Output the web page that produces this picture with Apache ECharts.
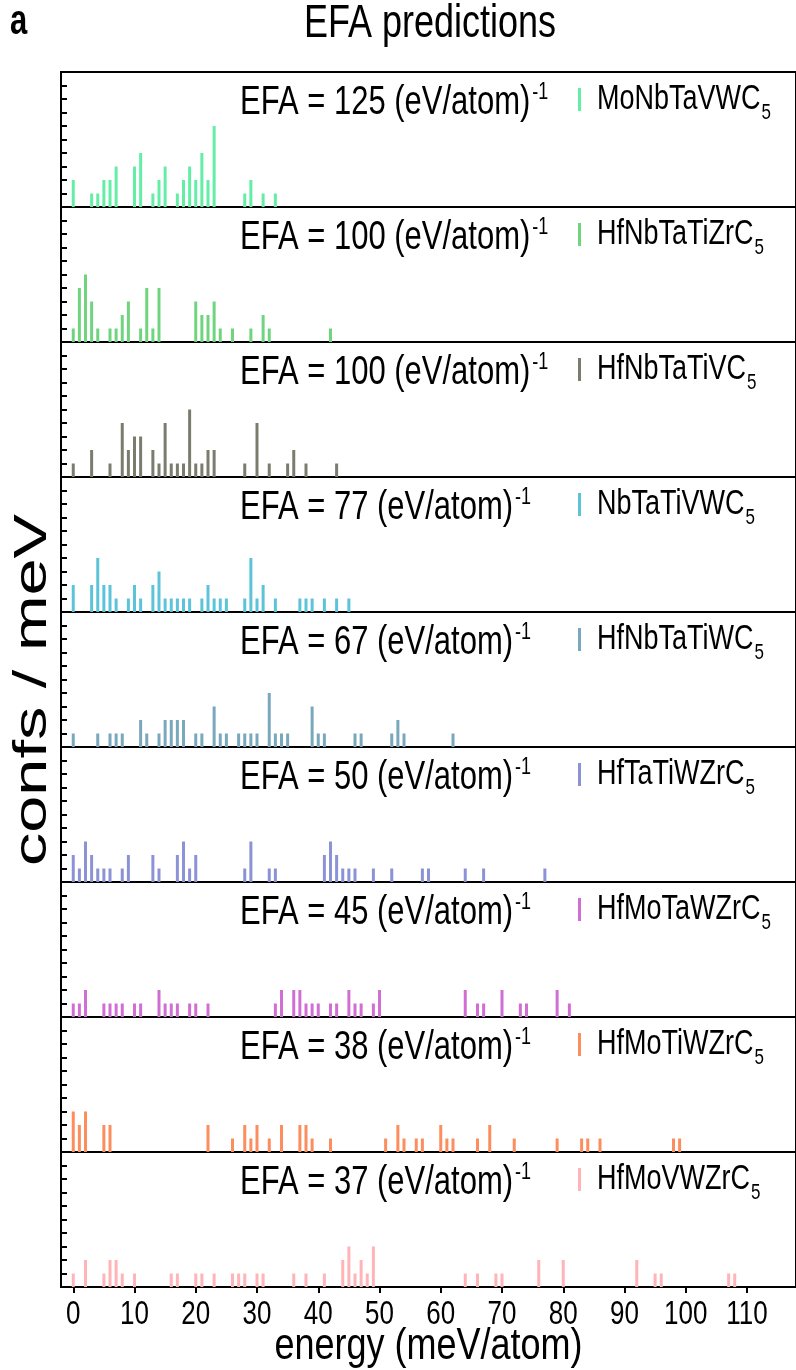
<!DOCTYPE html>
<html><head><meta charset="utf-8">
<script src="https://cdn.jsdelivr.net/npm/echarts@6/dist/echarts.min.js"></script>
<style>html,body{margin:0;padding:0;background:#fff}#c{width:796px;height:1370px}</style>
</head><body><div id="c"></div>
<script>
// ---------------- data ----------------
const compounds = ['MoNbTaVWC', 'HfNbTaTiZrC', 'HfNbTaTiVC', 'NbTaTiVWC', 'HfNbTaTiWC', 'HfTaTiWZrC', 'HfMoTaWZrC', 'HfMoTiWZrC', 'HfMoVWZrC'];
const efaValues = [125, 100, 100, 77, 67, 50, 45, 38, 37];
const colors = ['#62EFA5', '#6FD47D', '#7B7C6E', '#5CC3D9', '#79A7BC', '#8B92D5', '#D06ED3', '#FC8D5D', '#FFB5B7'];
const xTickValues = [0, 10, 20, 30, 40, 50, 60, 70, 80, 90, 100, 110];

// [energy (meV/atom), count]
const panel1 = [[0,2],[3,1],[4,1],[5,2],[6,2],[7,3],[10,3],[11,4],[13,1],[14,2],[15,3],[17,1],[18,2],[19,3],[20,2],[21,4],[22,2],[23,6],[28,1],[29,2],[31,1],[33,1]];
const panel2 = [[0,1],[1,4],[2,5],[3,3],[4,1],[6,1],[7,1],[8,2],[9,3],[11,1],[12,4],[13,1],[14,4],[20,3],[21,2],[22,2],[23,3],[24,1],[26,1],[29,1],[31,2],[32,1],[42,1]];
const panel3 = [[0,1],[3,2],[6,1],[8,4],[9,2],[10,3],[11,3],[13,2],[14,1],[15,4],[16,1],[17,1],[18,1],[19,5],[20,1],[21,1],[22,2],[23,2],[28,1],[30,4],[32,1],[35,1],[36,2],[38,1],[43,1]];
const panel4 = [[0,2],[3,2],[4,4],[5,2],[6,2],[7,1],[9,1],[10,2],[11,1],[13,2],[14,3],[15,1],[16,1],[17,1],[18,1],[19,1],[21,1],[22,2],[23,1],[24,1],[25,1],[28,1],[29,4],[30,1],[31,2],[33,1],[37,1],[38,1],[39,1],[41,1],[43,1],[45,1]];
const panel5 = [[0,1],[4,1],[6,1],[7,1],[8,1],[11,2],[12,1],[14,1],[15,2],[16,2],[17,2],[18,2],[20,1],[21,1],[23,3],[24,1],[25,1],[27,1],[28,1],[29,1],[30,1],[32,4],[33,1],[34,1],[35,1],[39,3],[40,1],[41,1],[46,1],[47,1],[52,1],[53,2],[54,1],[62,1]];
const panel6 = [[0,2],[1,1],[2,3],[3,2],[4,1],[5,1],[6,1],[8,1],[9,2],[13,2],[14,1],[17,2],[18,3],[19,1],[20,2],[28,1],[29,3],[32,1],[33,1],[41,2],[42,3],[43,2],[44,1],[45,1],[46,1],[49,1],[52,1],[57,1],[58,1],[64,1],[67,1],[77,1]];
const panel7 = [[0,1],[1,1],[2,2],[5,1],[6,1],[7,1],[8,1],[10,1],[11,1],[14,2],[15,1],[16,1],[17,1],[19,1],[20,1],[22,1],[33,1],[34,2],[36,2],[37,2],[38,1],[39,1],[40,1],[42,1],[43,1],[45,2],[46,1],[47,1],[49,1],[50,2],[64,2],[66,1],[67,1],[70,2],[73,1],[74,1],[79,2],[81,1]];
const panel8 = [[0,3],[1,2],[2,3],[5,2],[6,2],[22,2],[26,1],[28,2],[29,1],[30,2],[32,1],[34,2],[37,2],[38,2],[39,1],[42,1],[51,1],[53,2],[54,1],[56,1],[57,1],[60,2],[61,1],[62,1],[66,1],[68,2],[72,1],[79,1],[83,1],[84,1],[86,1],[98,1],[99,1]];
const panel9 = [[0,1],[2,2],[5,1],[6,2],[7,2],[8,1],[10,1],[16,1],[17,1],[20,1],[21,1],[23,1],[26,1],[27,1],[28,1],[30,1],[31,1],[36,1],[38,1],[41,1],[44,2],[45,3],[46,1],[47,2],[48,1],[49,3],[64,1],[66,1],[69,1],[70,1],[76,2],[80,2],[92,2],[95,1],[96,1],[107,1],[108,1]];
const panels = [panel1, panel2, panel3, panel4, panel5, panel6, panel7, panel8, panel9];

// ---------------- layout ----------------
const FONT = '"Liberation Sans", Arial, Helvetica, sans-serif';
const LEFT = 61, WIDTH = 735, TOP0 = 72, PH = 135;
const SY = 1.3; // vertical stretch of the lettering
const n = panels.length;

const grids = [], xAxes = [], yAxes = [], series = [], graphics = [];
for (let i = 0; i < n; i++) {
  const top = TOP0 + i * PH;
  const last = i === n - 1;
  grids.push({ left: LEFT, top: top, width: WIDTH, height: PH, show: true, borderColor: '#000', borderWidth: 2, backgroundColor: 'transparent' });
  xAxes.push({
    type: 'value', gridIndex: i, min: -2, max: 118,
    axisLine: { show: false, onZero: false },
    splitLine: { show: false },
    axisTick: last ? { show: true, customValues: xTickValues, inside: false, length: 6, lineStyle: { color: '#000', width: 2 } } : { show: false },
    axisLabel: { show: false }
  });
  yAxes.push({
    type: 'value', gridIndex: i, min: 0, max: 10, interval: 1, position: 'left',
    axisLine: { show: false, onZero: false }, splitLine: { show: false },
    axisTick: { show: true, inside: true, length: 6, lineStyle: { color: '#000', width: 2 } },
    axisLabel: { show: false }
  });
  series.push({
    type: 'bar', xAxisIndex: i, yAxisIndex: i, data: panels[i], barWidth: 3,
    itemStyle: { color: colors[i] }, silent: true
  });
}

const chart = echarts.init(document.getElementById('c'), null, { renderer: 'canvas' });
chart.setOption({
  animation: false,
  backgroundColor: '#fff',
  grid: grids, xAxis: xAxes, yAxis: yAxes, series: series
});

for (let i = 0; i < n; i++) {
  const top = TOP0 + i * PH;
  graphics.push({
    type: 'text', x: 240, y: top + 31, scaleY: SY,
    style: {
      text: '{m|EFA = ' + efaValues[i] + ' (eV/atom)}{s|-1}',
      verticalAlign: 'middle',
      rich: {
        m: { fontSize: 31, fontFamily: FONT, fill: '#000', lineHeight: 34 },
        s: { fontSize: 18, fontFamily: FONT, fill: '#000', lineHeight: 18, verticalAlign: 'top', padding: [0, 0, 0, 2] }
      }
    }
  });
  graphics.push({ type: 'rect', shape: { x: 578, y: top + 16, width: 3, height: 23 }, style: { fill: colors[i] } });
  graphics.push({
    type: 'text', x: 597, y: top + 27, scaleY: SY,
    style: {
      text: '{m|' + compounds[i] + '}{s|5}',
      verticalAlign: 'middle',
      rich: {
        m: { fontSize: 27, fontFamily: FONT, fill: '#000', lineHeight: 30 },
        s: { fontSize: 17, fontFamily: FONT, fill: '#000', lineHeight: 17, verticalAlign: 'top', padding: [17, 0, 0, 1] }
      }
    }
  });
}
// tick labels of the bottom axis, placed through the axis scale
const axisBottom = TOP0 + n * PH;
xTickValues.forEach(function (v) {
  const px = chart.convertToPixel({ xAxisIndex: n - 1 }, v);
  graphics.push({ type: 'text', x: px, y: axisBottom + 28, scaleY: SY, style: { text: String(v), font: '26px ' + FONT, fill: '#000', align: 'center', verticalAlign: 'middle' } });
});
graphics.push({ type: 'text', x: LEFT + WIDTH / 2, y: 1347, scaleY: 1.25, style: { text: 'energy (meV/atom)', font: '36px ' + FONT, fill: '#000', align: 'center', verticalAlign: 'middle' } });
graphics.push({ type: 'text', x: 430, y: 24, scaleY: SY, style: { text: 'EFA predictions', font: '36px ' + FONT, fill: '#000', align: 'center', verticalAlign: 'middle' } });
graphics.push({ type: 'text', x: 10, y: 22, scaleY: 1.4, style: { text: 'a', font: 'bold 31px ' + FONT, fill: '#000', align: 'left', verticalAlign: 'middle' } });
graphics.push({ type: 'text', x: 33, y: 690, rotation: Math.PI / 2, scaleX: 1.45, style: { text: 'confs / meV', font: '46px ' + FONT, fill: '#000', align: 'center', verticalAlign: 'middle' } });

chart.setOption({ graphic: graphics });
</script></body></html>
